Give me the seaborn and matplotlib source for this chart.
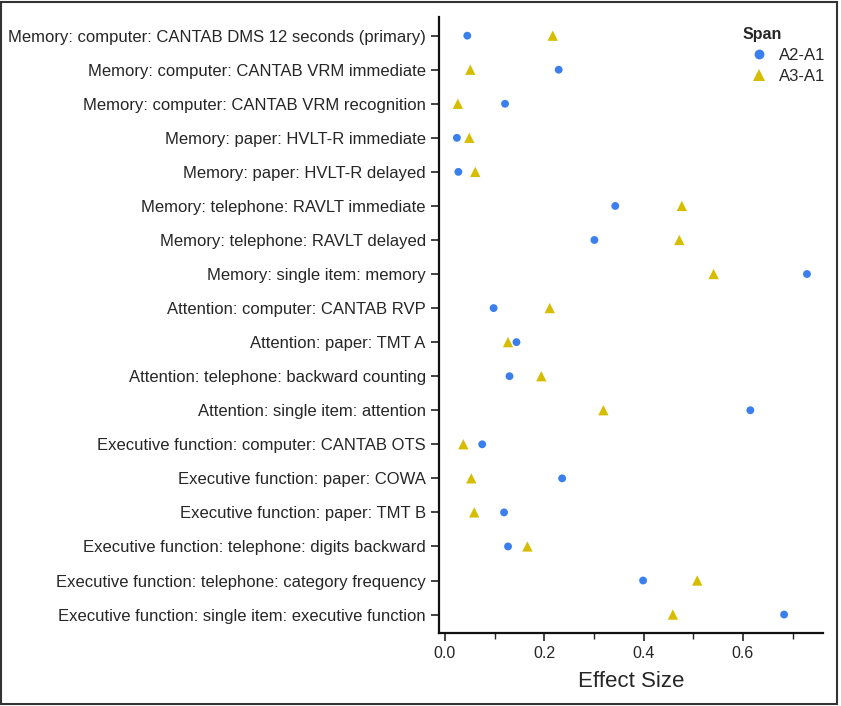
import matplotlib
matplotlib.use('Agg')
import matplotlib.pyplot as plt
import pandas as pd
import seaborn as sns
from matplotlib.patches import Rectangle

# Data
measures = [
    'Memory: computer: CANTAB DMS 12 seconds (primary)',
    'Memory: computer: CANTAB VRM immediate',
    'Memory: computer: CANTAB VRM recognition',
    'Memory: paper: HVLT-R immediate',
    'Memory: paper: HVLT-R delayed',
    'Memory: telephone: RAVLT immediate',
    'Memory: telephone: RAVLT delayed',
    'Memory: single item: memory',
    'Attention: computer: CANTAB RVP',
    'Attention: paper: TMT A',
    'Attention: telephone: backward counting',
    'Attention: single item: attention',
    'Executive function: computer: CANTAB OTS',
    'Executive function: paper: COWA',
    'Executive function: paper: TMT B',
    'Executive function: telephone: digits backward',
    'Executive function: telephone: category frequency',
    'Executive function: single item: executive function',
]
a2_a1 = [0.045, 0.229, 0.121, 0.024, 0.027, 0.343, 0.301, 0.729, 0.098, 0.144,
         0.130, 0.615, 0.075, 0.236, 0.119, 0.127, 0.399, 0.683]
a3_a1 = [0.217, 0.051, 0.026, 0.049, 0.061, 0.477, 0.472, 0.541, 0.211, 0.127,
         0.194, 0.319, 0.037, 0.053, 0.059, 0.166, 0.508, 0.459]
spans = ['A2-A1', 'A3-A1']

df = pd.concat([
    pd.DataFrame({'Measure': measures, 'Effect Size': a2_a1, 'Span': spans[0]}),
    pd.DataFrame({'Measure': measures, 'Effect Size': a3_a1, 'Span': spans[1]}),
])

sns.set_style('ticks')
plt.rcParams['font.family'] = ['Liberation Sans', 'DejaVu Sans']

fig = plt.figure(figsize=(8.41, 7.06), dpi=100)
ax = fig.add_axes([0.522, 0.103, 0.457, 0.873])

sns.scatterplot(data=df, x='Effect Size', y='Measure', hue='Span', style='Span',
                size='Span', sizes={'A2-A1': 32, 'A3-A1': 55},
                markers={'A2-A1': 'o', 'A3-A1': '^'},
                palette={'A2-A1': '#3b7fec', 'A3-A1': '#d6bd00'},
                linewidth=0, ax=ax)

ax.set_ylim(len(measures) - 0.45, -0.55)
ax.set_xlim(-0.012, 0.762)
ax.set_xticks([0.0, 0.2, 0.4, 0.6])
ax.set_xticks([0.1, 0.3, 0.5, 0.7], minor=True)
ax.set_xlabel('Effect Size', fontsize=16, labelpad=7)
ax.set_ylabel('')
ax.tick_params(axis='y', labelsize=12, length=6, width=1.2, color='#222222')
ax.tick_params(axis='x', labelsize=11.5, length=6, width=1.2, color='#222222')
ax.tick_params(axis='x', which='minor', length=4, width=1.0, color='#222222')
sns.despine(ax=ax)
for s in ['left', 'bottom']:
    ax.spines[s].set_linewidth(1.6)
    ax.spines[s].set_color('#111111')

leg = ax.legend(title='Span', loc='upper right', bbox_to_anchor=(1.04, 1.005),
                frameon=False, fontsize=12, title_fontsize=11.5, markerscale=1.25,
                handletextpad=0.2, borderpad=0.3, labelspacing=0.35)
leg.get_title().set_fontweight('bold')
leg._legend_box.align = 'left'

# outer border
fig.patches.append(Rectangle((0.0015, 0.003), 0.9935, 0.994, transform=fig.transFigure,
                             fill=False, edgecolor='#333333', linewidth=1.5))

fig.savefig('out.png', dpi=100)
